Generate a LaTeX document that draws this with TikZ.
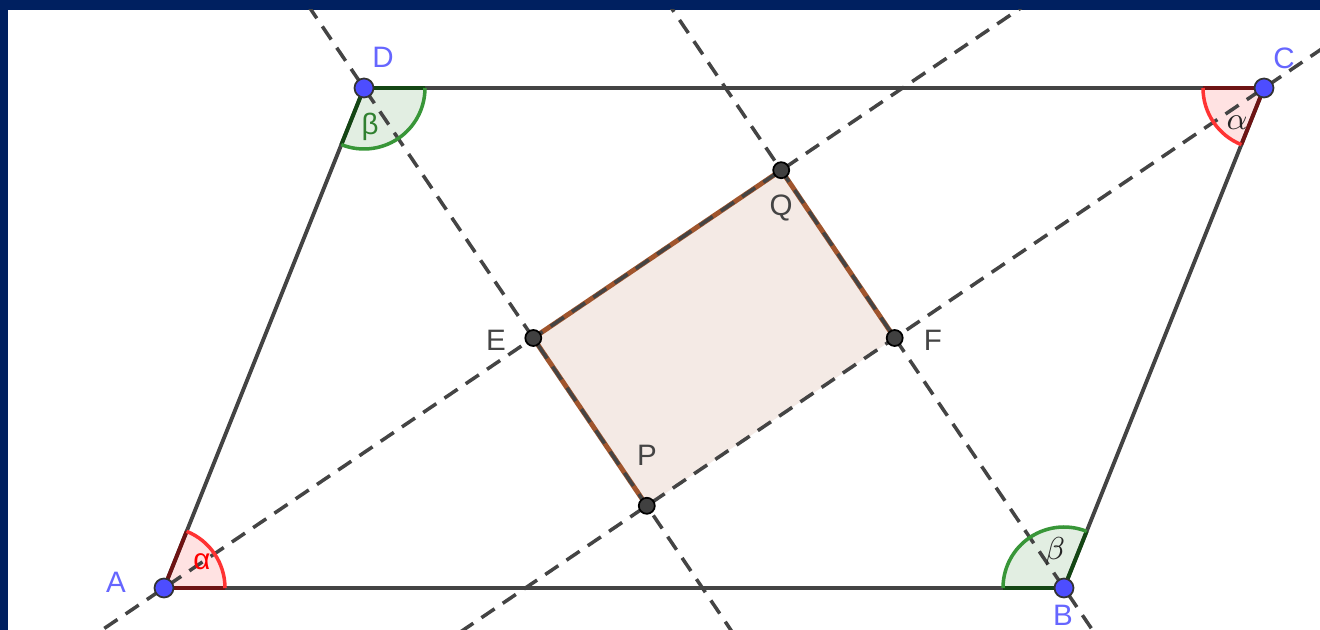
\documentclass[tikz,border=0pt]{standalone}
\usepackage{fontspec}
\setmainfont{Liberation Sans}
\usetikzlibrary{calc}

\definecolor{navy}{RGB}{0,32,96}
\definecolor{segcol}{RGB}{68,68,68}
\definecolor{ptblue}{RGB}{77,77,255}
\definecolor{lblblue}{RGB}{102,102,255}
\definecolor{ptdark}{RGB}{64,64,64}
\definecolor{redarc}{RGB}{255,51,51}
\definecolor{redfill}{RGB}{255,226,226}
\definecolor{reddark}{RGB}{110,20,20}
\definecolor{greenarc}{RGB}{56,150,56}
\definecolor{greenfill}{RGB}{226,238,226}
\definecolor{greendark}{RGB}{20,70,20}
\definecolor{rectfill}{RGB}{244,234,229}
\definecolor{rectedge}{RGB}{160,85,45}

\begin{document}
\begin{tikzpicture}[x=0.01cm, y=0.01cm,
    side/.style={segcol, line width=1.1pt},
    bisector/.style={segcol, line width=1pt, dash pattern=on 4.5pt off 2.8pt},
    lbl/.style={font=\fontsize{8.4}{10}\selectfont, inner sep=0pt},
    bluelbl/.style={lbl, lblblue},
    graylbl/.style={lbl, segcol},
    mathlbl/.style={font=\fontsize{9.5}{11}\selectfont, inner sep=0pt, black!85}]
  % frame
  \fill[navy] (0,0) rectangle (1320,630);
  \fill[white] (8,0) rectangle (1320,620);
  \useasboundingbox (0,0) rectangle (1320,630);
  % vertices of the parallelogram
  \coordinate (A) at (164,42);
  \coordinate (B) at (1064,42);
  \coordinate (C) at (1264,542);
  \coordinate (D) at (364,542);
  % meeting points of the bisectors
  \coordinate (E) at (533.3,292);
  \coordinate (F) at (894.7,292);
  \coordinate (P) at (646.8,124.2);
  \coordinate (Q) at (781.2,459.8);
  % angle sectors (fill)
  \foreach \v/\s in {A/0, C/180}
    \fill[redfill] (\v) -- ++(\s:61) arc[start angle=\s, delta angle=68.2, radius=61] -- cycle;
  \foreach \v/\s in {B/68.2, D/248.2}
    \fill[greenfill] (\v) -- ++(\s:61) arc[start angle=\s, delta angle=111.8, radius=61] -- cycle;
  % rectangle EQFP
  \fill[rectfill] (E) -- (Q) -- (F) -- (P) -- cycle;
  \draw[rectedge, line width=1.4pt] (P) -- (E) -- (Q) -- (F);
  % angle bisectors
  \begin{scope}
    \clip (8,0) rectangle (1320,620);
    \draw[bisector] ($(A)!-0.2!(Q)$) -- ($(A)!1.6!(Q)$);
    \draw[bisector] ($(C)!-0.2!(P)$) -- ($(C)!1.6!(P)$);
    \draw[bisector] ($(D)!-0.3!(P)$) -- ($(D)!1.5!(P)$);
    \draw[bisector] ($(B)!-0.3!(Q)$) -- ($(B)!1.6!(Q)$);
  \end{scope}
  % parallelogram
  \draw[side] (A) -- (B) -- (C) -- (D) -- cycle;
  % angle sectors (outline)
  \foreach \v/\s in {A/0, C/180} {
    \draw[reddark, line width=1.1pt] (\v) -- ++(\s:61) (\v) -- ++(\s+68.2:61);
    \draw[redarc, line width=1pt] (\v) ++(\s:61) arc[start angle=\s, delta angle=68.2, radius=61];
  }
  \foreach \v/\s in {B/68.2, D/248.2} {
    \draw[greendark, line width=1.1pt] (\v) -- ++(\s:61) (\v) -- ++(\s+111.8:61);
    \draw[greenarc, line width=1pt] (\v) ++(\s:61) arc[start angle=\s, delta angle=111.8, radius=61];
  }
  % points
  \foreach \p in {A,B,C,D}
    \filldraw[fill=ptblue, draw=black!80, line width=0.5pt] (\p) circle[radius=9.5];
  \foreach \p in {E,F,P,Q}
    \filldraw[fill=ptdark, draw=black, line width=0.5pt] (\p) circle[radius=8];
  % labels
  \node[bluelbl] (labA) at (116,48) {A};
  \node[bluelbl] (labB) at (1063,15) {B};
  \node[bluelbl] (labC) at (1284,572) {C};
  \node[bluelbl] (labD) at (383,573) {D};
  \node[graylbl] (labE) at (496,290) {E};
  \node[graylbl] (labF) at (933,290) {F};
  \node[graylbl] (labP) at (647,175) {P};
  \node[graylbl] (labQ) at (781,422) {Q};
  % angle labels
  \node[lbl, red] (alphaA) at (202,68) {α};
  \node[lbl, greenarc!85!black] (betaD) at (370,503) {β};
  \node[mathlbl] (alphaC) at (1237,507) {$\alpha$};
  \node[mathlbl] (betaB) at (1055,78) {$\beta$};
\end{tikzpicture}
\end{document}
